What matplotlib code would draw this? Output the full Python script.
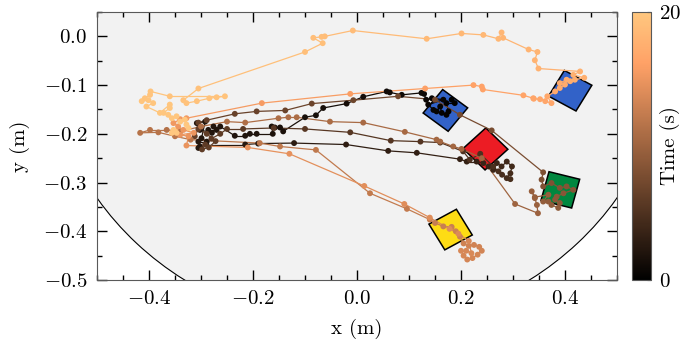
import numpy as np
import matplotlib
matplotlib.use('Agg')
import matplotlib.pyplot as plt
from matplotlib.collections import LineCollection
from matplotlib.patches import Circle, Polygon

plt.rcParams['font.family'] = 'serif'
plt.rcParams['font.serif'] = ['cmr10']
plt.rcParams['mathtext.fontset'] = 'cm'
plt.rcParams['axes.formatter.use_mathtext'] = True
plt.rcParams['font.size'] = 15

# ---------------------------------------------------------------
# Trajektorie (x, y in m, t in s), von Hand aus dem Bild gelesen
traj_x = [
    # Start auf blauem Quadrat 1
    0.182, 0.188, 0.172, 0.176, 0.172, 0.163, 0.160, 0.153, 0.147, 0.137, 0.166, 0.144, 0.133, 0.129,
    # oberer schwarzer Pfad nach links
    0.124, 0.086, 0.063, 0.057, 0.012, -0.020, -0.065, -0.079, -0.100, -0.142, -0.148, -0.158, -0.164,
    -0.162, -0.193, -0.206, -0.215, -0.235,
    # linker Haufen (schwarz)
    -0.263, -0.276, -0.270, -0.286, -0.279, -0.302, -0.308, -0.292, -0.299, -0.289, -0.305, -0.302, -0.305,
    # zum roten Quadrat
    -0.290, -0.215, -0.190, -0.121, -0.021, 0.060, 0.115, 0.198, 0.211, 0.230,
    # am roten Quadrat
    0.243, 0.253, 0.262, 0.269, 0.278, 0.288, 0.298, 0.295, 0.288, 0.295, 0.279, 0.272, 0.262, 0.237,
    0.217, 0.204,
    # zurueck
    0.160, 0.122, 0.065, -0.013, -0.100, -0.160, -0.219, -0.250,
    -0.263, -0.280, -0.292, -0.298, -0.285, -0.272, -0.289, -0.305, -0.312,
    # zum gruenen Quadrat
    -0.305, -0.289, -0.235, -0.193, -0.138, -0.087, -0.007, 0.079, 0.150, 0.198, 0.259, 0.358,
    0.355, 0.358, 0.374, 0.390, 0.403, 0.416, 0.397, 0.384, 0.381, 0.390, 0.387, 0.374, 0.368, 0.358, 0.368,
    0.342, 0.336, 0.342, 0.346, 0.348, 0.304,
    # zurueck
    0.240, 0.201, 0.185, 0.160, 0.153, 0.092, 0.012, -0.052, -0.116, -0.132, -0.151, -0.215, -0.250,
    -0.300, -0.340, -0.366, -0.398, -0.417, -0.382, -0.350, -0.320,
    # zum gelben Quadrat
    -0.187, -0.148, -0.079, 0.025, 0.096, 0.140,
    0.150, 0.166, 0.182, 0.190, 0.198, 0.205, 0.215, 0.225, 0.235, 0.240, 0.232, 0.222, 0.212, 0.205,
    0.200, 0.210, 0.220, 0.215, 0.195, 0.178,
    0.140, 0.091, 0.014, -0.130, -0.210,
    -0.328, -0.324, -0.340, -0.314, -0.334, -0.344, -0.353, -0.340,
    # zum blauen Quadrat 2
    -0.328, -0.183, -0.013, 0.131, 0.224, 0.240, 0.242, 0.320, 0.339,
    0.340, 0.352, 0.362, 0.374, 0.366, 0.381, 0.390, 0.400, 0.390, 0.403, 0.410, 0.419, 0.437, 0.416, 0.429,
    # oberer Bogen zurueck
    0.349, 0.342, 0.347, 0.330, 0.281, 0.278, 0.272, 0.243, 0.201, 0.134, -0.008, -0.062, -0.068, -0.084,
    -0.066, -0.100, -0.305,
    # Ende
    -0.334, -0.328, -0.308, -0.284, -0.270, -0.254, -0.360, -0.397, -0.398, -0.408, -0.414, -0.401, -0.392,
    -0.405, -0.379, -0.360, -0.360, -0.372, -0.363, -0.356, -0.347, -0.340, -0.331, -0.328, -0.324, -0.353,
    -0.356, -0.347,
]
traj_y = [
    -0.130, -0.137, -0.137, -0.154, -0.161, -0.157, -0.144, -0.154, -0.151, -0.140, -0.130, -0.127, -0.130, -0.118,
    -0.116, -0.120, -0.115, -0.113, -0.124, -0.138, -0.147, -0.162, -0.166, -0.195, -0.187, -0.187, -0.185,
    -0.200, -0.200, -0.200, -0.204, -0.204,
    -0.185, -0.185, -0.192, -0.192, -0.198, -0.192, -0.178, -0.175, -0.209, -0.216, -0.216, -0.226, -0.229,
    -0.222, -0.222, -0.220, -0.219, -0.222, -0.235, -0.239, -0.252, -0.257, -0.257,
    -0.260, -0.267, -0.274, -0.260, -0.267, -0.257, -0.267, -0.281, -0.291, -0.293, -0.284, -0.277, -0.267, -0.241,
    -0.253, -0.236,
    -0.218, -0.216, -0.214, -0.197, -0.190, -0.188, -0.190, -0.190,
    -0.200, -0.210, -0.222, -0.232, -0.228, -0.215, -0.200, -0.190, -0.205,
    -0.177, -0.172, -0.159, -0.154, -0.152, -0.138, -0.131, -0.123, -0.130, -0.161, -0.193, -0.279,
    -0.294, -0.308, -0.301, -0.311, -0.308, -0.315, -0.322, -0.329, -0.335, -0.342, -0.352, -0.346, -0.339, -0.339, -0.325,
    -0.330, -0.318, -0.332, -0.346, -0.363, -0.344,
    -0.250, -0.231, -0.226, -0.216, -0.212, -0.196, -0.177, -0.175, -0.166, -0.166, -0.168, -0.177, -0.175,
    -0.185, -0.195, -0.192, -0.192, -0.198, -0.197, -0.205, -0.212,
    -0.219, -0.226, -0.233, -0.322, -0.354, -0.376,
    -0.383, -0.390, -0.391, -0.400, -0.411, -0.425, -0.430, -0.428, -0.432, -0.440, -0.448, -0.455, -0.458, -0.450,
    -0.440, -0.440, -0.445, -0.420, -0.405, -0.395,
    -0.372, -0.344, -0.307, -0.241, -0.228,
    -0.224, -0.205, -0.202, -0.198, -0.192, -0.185, -0.178, -0.170,
    -0.168, -0.137, -0.118, -0.107, -0.100, -0.103, -0.109, -0.121, -0.127,
    -0.128, -0.129, -0.133, -0.137, -0.123, -0.113, -0.106, -0.099, -0.096, -0.089, -0.092, -0.089, -0.085, -0.079, -0.072,
    -0.066, -0.049, -0.032, -0.027, -0.003, 0.008, -0.005, 0.003, 0.006, -0.005, 0.012, 0.000, -0.001, -0.003,
    -0.014, -0.032, -0.107,
    -0.131, -0.137, -0.133, -0.127, -0.125, -0.123, -0.123, -0.113, -0.120, -0.127, -0.133, -0.131, -0.137,
    -0.144, -0.157, -0.140, -0.147, -0.157, -0.161, -0.168, -0.164, -0.175, -0.171, -0.181, -0.188, -0.192,
    -0.198, -0.198,
]
traj_t = [
    0.0, 0.1, 0.15, 0.2, 0.3, 0.35, 0.4, 0.45, 0.5, 0.55, 0.6, 0.65, 0.7, 0.8,
    0.9, 1.0, 1.05, 1.1, 1.25, 1.35, 1.45, 1.5, 1.55, 1.65, 1.7, 1.75, 1.8,
    1.85, 1.9, 1.95, 2.0, 2.05,
    2.1, 2.12, 2.15, 2.18, 2.2, 2.22, 2.25, 2.28, 2.3, 2.33, 2.36, 2.4, 2.45,
    2.5, 2.6, 2.7, 2.8, 2.95, 3.1, 3.2, 3.35, 3.4, 3.5,
    3.6, 3.7, 3.8, 3.9, 4.0, 4.1, 4.2, 4.3, 4.4, 4.5, 4.6, 4.7, 4.8, 4.9,
    5.0, 5.05,
    5.15, 5.25, 5.35, 5.5, 5.6, 5.7, 5.8, 5.85,
    5.9, 5.95, 6.0, 6.05, 6.1, 6.15, 6.2, 6.25, 6.3,
    6.4, 6.45, 6.55, 6.65, 6.75, 6.85, 7.0, 7.15, 7.3, 7.45, 7.6, 7.9,
    8.0, 8.1, 8.2, 8.3, 8.4, 8.5, 8.6, 8.7, 8.8, 8.9, 9.0, 9.1, 9.2, 9.3, 9.4,
    9.5, 9.6, 9.7, 9.75, 9.85, 10.0,
    10.2, 10.3, 10.35, 10.4, 10.45, 10.55, 10.7, 10.8, 10.9, 10.95, 11.0, 11.1, 11.15,
    11.2, 11.3, 11.4, 11.5, 11.55, 11.6, 11.7, 11.8,
    11.95, 12.05, 12.15, 12.3, 12.4, 12.5,
    12.6, 12.7, 12.8, 12.9, 13.0, 13.1, 13.15, 13.2, 13.25, 13.3, 13.4, 13.45, 13.5, 13.55,
    13.6, 13.65, 13.7, 13.8, 13.9, 14.0,
    14.1, 14.2, 14.35, 14.55, 14.7,
    14.8, 14.85, 14.9, 14.95, 15.0, 15.1, 15.2, 15.3,
    15.4, 15.6, 15.85, 16.05, 16.2, 16.25, 16.3, 16.45, 16.5,
    16.55, 16.6, 16.65, 16.7, 16.8, 16.9, 17.0, 17.1, 17.15, 17.2, 17.3, 17.4, 17.5, 17.6, 17.7,
    17.85, 17.95, 18.0, 18.05, 18.2, 18.25, 18.3, 18.4, 18.5, 18.65, 18.85, 18.95, 19.0, 19.05,
    19.1, 19.15, 19.35,
    19.4, 19.42, 19.45, 19.48, 19.5, 19.52, 19.6, 19.63, 19.65, 19.67, 19.7, 19.72, 19.74,
    19.76, 19.8, 19.82, 19.84, 19.86, 19.88, 19.9, 19.92, 19.94, 19.95, 19.96, 19.97, 19.98,
    19.99, 20.0,
]

# Quadrate: Mittelpunkt, Drehwinkel (Grad), Farbe
box_x = [0.170, 0.410, 0.247, 0.391, 0.180]
box_y = [-0.152, -0.1115, -0.231, -0.315, -0.3965]
box_ang = [-38., -30., -46., -14.7, 30.]
box_col = ['#3262c8', '#3262c8', '#ec1c24', '#00873f', '#fedc14']
box_side = 0.061

arena_r = 0.6

x = np.array(traj_x)
y = np.array(traj_y)
t = np.array(traj_t)

# ---------------------------------------------------------------
fig = plt.figure(figsize=(6.86, 3.43), dpi=100)
ax = fig.add_axes([97/686, 63/343, 520/686, 268/343])

ax.add_patch(Circle((0, 0), arena_r, facecolor='#f2f2f2', edgecolor='k', lw=0.8, zorder=0))

for bx, by, ba, bc in zip(box_x, box_y, box_ang, box_col):
    a = np.deg2rad(ba)
    h = box_side/2
    ex = np.array([np.cos(a), np.sin(a)]) * h
    ey = np.array([-np.sin(a), np.cos(a)]) * h
    c = np.array([bx, by])
    pts = [c - ex - ey, c + ex - ey, c + ex + ey, c - ex + ey]
    ax.add_patch(Polygon(pts, closed=True, facecolor=bc, edgecolor='k', lw=1.1, zorder=2))

norm = plt.Normalize(0, 20)
segs = np.stack([np.column_stack([x[:-1], y[:-1]]), np.column_stack([x[1:], y[1:]])], axis=1)
lc = LineCollection(segs, cmap='copper', norm=norm, lw=0.9, zorder=3)
lc.set_array(0.5*(t[:-1] + t[1:]))
ax.add_collection(lc)
sc = ax.scatter(x, y, c=t, cmap='copper', norm=norm, s=18, lw=0, zorder=4)

ax.set_xlim(-0.5, 0.5)
ax.set_ylim(-0.5, 0.05)
ax.set_xticks([-0.4, -0.2, 0.0, 0.2, 0.4])
ax.set_yticks([0.0, -0.1, -0.2, -0.3, -0.4, -0.5])
ax.set_xticks(np.arange(-0.5, 0.51, 0.05), minor=True)
ax.set_yticks(np.arange(-0.5, 0.051, 0.05), minor=True)
ax.tick_params(which='both', direction='in', top=True, right=True, width=1.0, pad=7)
ax.tick_params(which='major', length=7.5)
ax.tick_params(which='minor', length=3.8)
for s in ax.spines.values():
    s.set_linewidth(0.8)
    s.set_color('0.35')
ax.set_xlabel('x (m)', labelpad=8)
ax.set_ylabel('y (m)', labelpad=9)

cax = fig.add_axes([632/686, 63/343, 19/686, 268/343])
cb = fig.colorbar(sc, cax=cax)
cb.set_ticks([0, 20])
cb.ax.tick_params(direction='in', length=3, width=0.8, pad=6)
cb.ax.minorticks_off()
cb.outline.set_linewidth(0.8)
cb.outline.set_edgecolor('0.35')
cb.set_label('Time (s)', va='center')
cb.ax.yaxis.set_label_coords(2.0, 0.5)

fig.savefig('out.png', dpi=100)
